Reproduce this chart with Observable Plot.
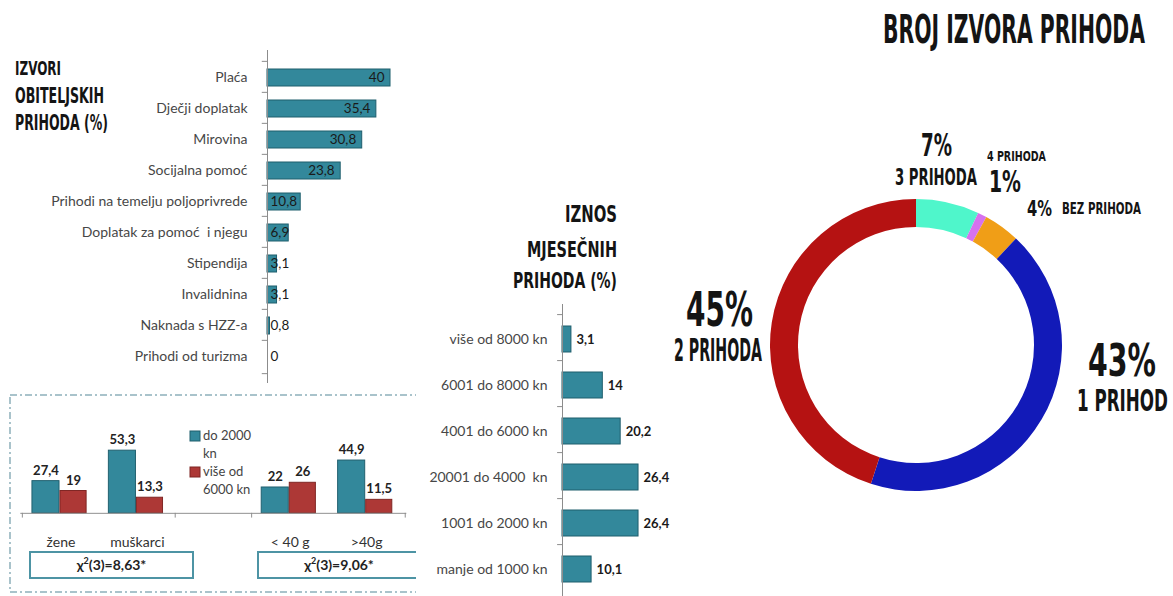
<!DOCTYPE html>
<html><head><meta charset="utf-8">
<script src="https://cdn.jsdelivr.net/npm/d3@7"></script>
<script src="https://cdn.jsdelivr.net/npm/@observablehq/plot@0.6"></script>
<style>
html,body{margin:0;padding:0;background:#fff;overflow:hidden}
#root{position:relative;width:1173px;height:596px;overflow:hidden;font-family:Lato,"Open Sans",sans-serif;background:#fff}
#root svg{position:absolute;overflow:visible}
#clip2{position:absolute;left:0;top:390px;width:416px;height:206px;overflow:hidden}
</style></head><body><div id="root"><div id="clip2"></div></div>
<script>
// ---------------- DATA ----------------
const sourceCats = ["Plaća","Dječji doplatak","Mirovina","Socijalna pomoć","Prihodi na temelju poljoprivrede","Doplatak za pomoć  i njegu","Stipendija","Invalidnina","Naknada s HZZ-a","Prihodi od turizma"];
const sourceVals = [40,35.4,30.8,23.8,10.8,6.9,3.1,3.1,0.8,0];

const amountCats = ["više od 8000 kn","6001 do 8000 kn","4001 do 6000 kn","20001 do 4000  kn","1001 do 2000 kn","manje od 1000 kn"];
const amountVals = [3.1,14,20.2,26.4,26.4,10.1];

const groupCats = ["žene","muškarci"," ","< 40 g",">40g"];
const lowIncome = [27.4,53.3,null,22,44.9];
const highIncome = [19,13.3,null,26,11.5];
const seriesNames = [["do 2000","kn"],["više od","6000 kn"]];
const chiLabels = [["χ","2","(3)=8,63*"],["χ","2","(3)=9,06*"]];

const countCats = ["3 PRIHODA","4 PRIHODA","BEZ PRIHODA","1 PRIHOD","2 PRIHODA"];
const countVals = [7,1,4,43,45];

const titles = {
  sources: ["IZVORI","OBITELJSKIH","PRIHODA (%)"],
  amount: ["IZNOS","MJESEČNIH","PRIHODA (%)"],
  count: "BROJ IZVORA PRIHODA"
};

// ---------------- STYLE ----------------
const TEAL = "#33889b", TEAL_DARK = "#1f5e6d";
const RED = "#ad3836", RED_DARK = "#7e2422";
const SLICE_COLORS = ["#4ff6cb","#d672ee","#f09e17","#121ab8","#b51212"];
const AXIS = "#8c8c8c";
const COND = "'Liberation Sans Narrow','DejaVu Sans Condensed','Roboto',sans-serif";
const fmt = v => String(v).replace(".", ",");
const root = document.getElementById("root");
function place(el, left, top, parent = root) {
  el.style.position = "absolute"; el.style.left = left + "px"; el.style.top = top + "px";
  parent.appendChild(el); return el;
}
const baseStyle = {fontFamily: "Lato, 'Open Sans', sans-serif", fontSize: "14px", color: "#474747", background: "transparent", overflow: "visible"};

// ---------------- PANEL 1: sources ----------------
const src = sourceCats.map((c, i) => ({c, v: sourceVals[i]}));
const p1Step = 333 / sourceCats.length;
place(Plot.plot({
  width: 430, height: 350, marginLeft: 267, marginRight: 20, marginTop: 10, marginBottom: 7,
  x: {domain: [0, 46.5], axis: null},
  y: {domain: sourceCats, padding: 0.46, label: null, tickSize: 0, tickPadding: 20},
  style: baseStyle,
  marks: [
    Plot.barX(src, {x: "v", y: "c", fill: TEAL, stroke: TEAL_DARK, strokeWidth: 1}),
    Plot.ruleX([0], {stroke: AXIS}),
    Plot.ruleY(sourceCats, {y: d => d, x1: -1.7, x2: 0, dy: -p1Step / 2, stroke: AXIS}),
    Plot.ruleY(sourceCats.slice(-1), {y: d => d, x1: -1.7, x2: 0, dy: p1Step / 2, stroke: AXIS}),
    Plot.text(src.filter(d => d.v >= 11), {x: "v", y: "c", text: d => fmt(d.v), textAnchor: "end", dx: -6, fill: "#1a1a1a", fontSize: 13.5}),
    Plot.text(src.filter(d => d.v < 11), {x: 0, y: "c", text: d => fmt(d.v), textAnchor: "start", dx: 3, fill: "#1a1a1a", fontSize: 13.5})
  ]
}), 0, 40);

// ---------------- PANEL 2: grouped bars ----------------
const grp = groupCats.map((g, i) => ({g, a: lowIncome[i], b: highIncome[i]})).filter(d => d.a != null);
const bw2 = 399 / groupCats.length;
const clip2 = document.getElementById("clip2");
place(Plot.plot({
  width: 430, height: 206, marginLeft: 21, marginRight: 10, marginTop: 20, marginBottom: 79,
  x: {domain: groupCats, padding: 0, label: null, tickSize: 0, tickPadding: 24},
  y: {domain: [0, 88], axis: null},
  style: {...baseStyle, color: "#333", fontSize: "14.5px"},
  marks: [
    Plot.barY(grp, {x: "g", y: "a", fill: TEAL, stroke: TEAL_DARK, insetLeft: 10, insetRight: 41}),
    Plot.barY(grp, {x: "g", y: "b", fill: RED, stroke: RED_DARK, insetLeft: 39, insetRight: 13}),
    Plot.ruleY([0], {stroke: AXIS}),
    Plot.ruleX([groupCats[0], groupCats[2], groupCats[3]], {x: d => d, y1: 0, y2: -4, dx: -bw2 / 2, stroke: AXIS}),
    Plot.ruleX([groupCats[4]], {x: d => d, y1: 0, y2: -4, dx: bw2 / 2, stroke: AXIS}),
    Plot.text(grp, {x: "g", y: "a", text: d => fmt(d.a), dx: -15.5, dy: -11, fontWeight: "bold", fontSize: 13.5, fill: "#222"}),
    Plot.text(grp, {x: "g", y: "b", text: d => fmt(d.b), dx: 13, dy: -11, fontWeight: "bold", fontSize: 13.5, fill: "#222"})
  ]
}), 0, 0, clip2);

// decorations of panel 2 (frame, legend, chi boxes)
const deco2 = d3.create("svg").attr("width", 416).attr("height", 206).style("left", "0px").style("top", "0px").style("position", "absolute");
deco2.append("rect").attr("x", 10).attr("y", 5).attr("width", 430).attr("height", 197)
  .attr("fill", "none").attr("stroke", "#a9c3cb").attr("stroke-width", 2).attr("stroke-dasharray", "7,3,2,3");
[[TEAL, TEAL_DARK], [RED, RED_DARK]].forEach(([f, s], i) => {
  const y0 = 41 + i * 36;
  deco2.append("rect").attr("x", 190).attr("y", y0).attr("width", 10).attr("height", 10).attr("fill", f).attr("stroke", s);
  seriesNames[i].forEach((t, j) => deco2.append("text").attr("x", 203).attr("y", y0 + 9 + j * 18)
    .attr("font-family", "Lato, sans-serif").attr("font-size", 13).attr("fill", "#444").text(t));
});
[[30, 163], [258, 162]].forEach(([x, w], i) => {
  deco2.append("rect").attr("x", x).attr("y", 162).attr("width", w).attr("height", 26)
    .attr("fill", "#fff").attr("stroke", "#4d94a4").attr("stroke-width", 2);
  const t = deco2.append("text").attr("x", x + w / 2).attr("y", 180).attr("text-anchor", "middle")
    .attr("font-family", "Lato, sans-serif").attr("font-weight", "bold").attr("font-size", 14).attr("fill", "#222");
  t.append("tspan").text(chiLabels[i][0]);
  t.append("tspan").attr("dy", -6).attr("font-size", 9).text(chiLabels[i][1]);
  t.append("tspan").attr("dy", 6).text(chiLabels[i][2]);
});
clip2.appendChild(deco2.node());

// ---------------- PANEL 3: amounts ----------------
const amt = amountCats.map((c, i) => ({c, v: amountVals[i]}));
const p3Step = 298.8 / amountCats.length;
place(Plot.plot({
  width: 260, height: 310, marginLeft: 162, marginRight: 8, marginTop: 4, marginBottom: 7.2,
  x: {domain: [0, 31.25], axis: null},
  y: {domain: amountCats, padding: 0.44, label: null, tickSize: 0, tickPadding: 15},
  style: {...baseStyle, fontSize: "14px"},
  marks: [
    Plot.barX(amt, {x: "v", y: "c", fill: TEAL, stroke: TEAL_DARK, strokeWidth: 1}),
    Plot.ruleX([0], {stroke: AXIS}),
    Plot.ruleY(amountCats, {y: d => d, x1: -1.7, x2: 0, dy: -p3Step / 2, stroke: AXIS}),
    Plot.text(amt, {x: "v", y: "c", text: d => fmt(d.v), textAnchor: "start", dx: 5, fill: "#1a1a1a", fontWeight: "bold", fontSize: 13})
  ]
}), 400, 300);

// ---------------- PANEL 4: donut ----------------
const cnt = countCats.map((c, i) => ({c, v: countVals[i]}));
const R_OUT = 146, R_IN = 118;
function donut(index, scales, values, dims) {
  const color = scales && scales.color ? scales.color : (c => SLICE_COLORS[countCats.indexOf(c)]);
  const g = d3.create("svg:g").attr("transform", `translate(${dims.width / 2},${dims.height / 2})`);
  const arcs = d3.pie().sort(null).value(d => d.v)(cnt);
  g.selectAll("path").data(arcs).join("path")
    .attr("d", d3.arc().innerRadius(R_IN).outerRadius(R_OUT))
    .attr("fill", d => color(d.data.c));
  return g.node();
}
place(Plot.plot({
  width: 320, height: 320, margin: 0,
  color: {domain: countCats, range: SLICE_COLORS},
  style: {background: "transparent", overflow: "visible"},
  marks: [
    Plot.dot(cnt, {fill: "c", r: 0}),
    donut
  ]
}), 916 - 160, 345 - 160);

// ---------------- TITLES / LABELS (condensed display text) ----------------
const over = d3.create("svg").attr("width", 1173).attr("height", 596).style("left", "0px").style("top", "0px").style("pointer-events", "none");
root.appendChild(over.node());
function cond(str, x0, x1, yTop, yBot) {
  const fs = (yBot - yTop) / 0.73;
  const t = over.append("text").attr("x", 0).attr("y", 0).attr("font-size", fs)
    .attr("font-family", COND).attr("font-weight", "bold").attr("fill", "#141414").text(str);
  const natural = t.node().getComputedTextLength() || (x1 - x0);
  t.attr("transform", `translate(${x0},${yBot}) scale(${(x1 - x0) / natural},1)`);
}
cond(titles.sources[0], 15, 61, 61, 75);
cond(titles.sources[1], 15, 104, 88, 103);
cond(titles.sources[2], 15, 108, 115, 130);
cond(titles.amount[0], 565, 617, 205, 222);
cond(titles.amount[1], 527, 617, 241, 257);
cond(titles.amount[2], 513, 617, 272, 288);
cond(titles.count, 883, 1145, 14, 43);
// donut labels
cond(countVals[0] + "%", 921, 952, 133, 156);
cond(countCats[0], 895, 977, 168, 185);
cond(countCats[1], 987, 1046, 151, 161);
cond(countVals[1] + "%", 989, 1021, 170, 192);
cond(countVals[2] + "%", 1027, 1052, 201, 216);
cond(countCats[2], 1062, 1141, 203, 214);
cond(countVals[4] + "%", 686, 753, 291, 326);
cond(countCats[4], 674, 762, 338, 361);
cond(countVals[3] + "%", 1088, 1156, 344, 376);
cond(countCats[3], 1077, 1168, 389, 411);
</script></body></html>
